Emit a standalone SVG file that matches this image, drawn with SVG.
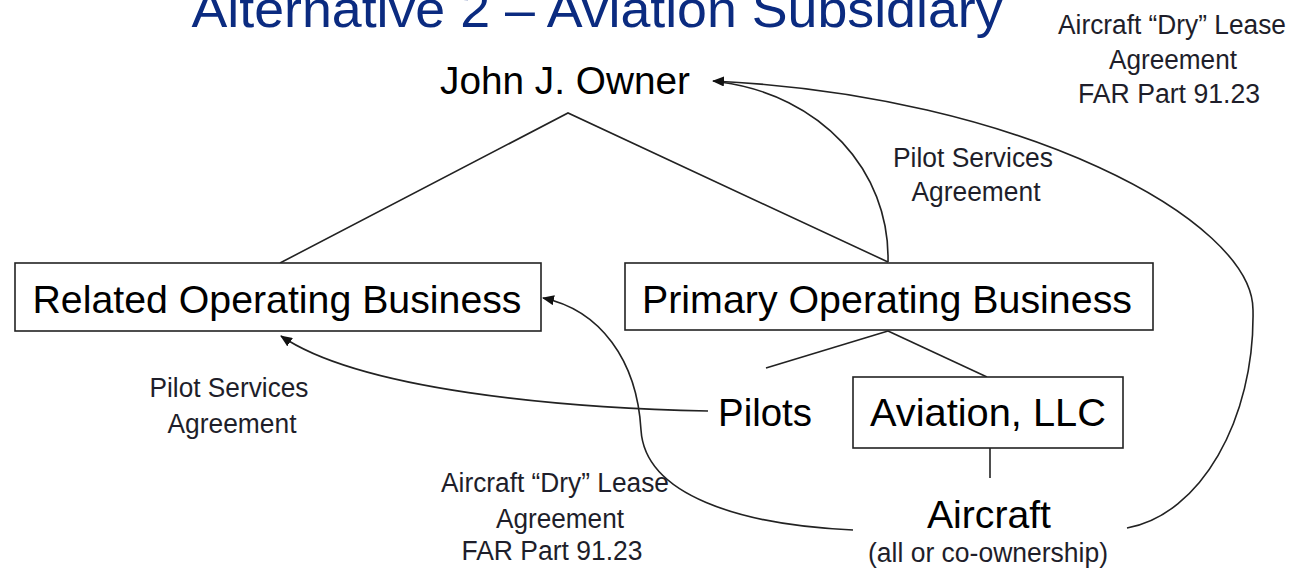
<svg xmlns="http://www.w3.org/2000/svg" width="1291" height="573" viewBox="0 0 1291 573">
<style>
text{font-family:"Liberation Sans",Arial,sans-serif;text-anchor:middle}
.main{font-size:39px;fill:#000}
.lbl{font-size:27px;fill:#1e1e2a}
.title{font-size:52px;fill:#0b2b80}
.box{fill:#fff;stroke:#222;stroke-width:1.6}
.ln{fill:none;stroke:#222;stroke-width:1.6}
</style>
<defs>
<marker id="ah" viewBox="0 0 12 10" markerWidth="12" markerHeight="10" refX="11" refY="5" orient="auto" markerUnits="userSpaceOnUse">
<path d="M0,0 L12,5 L0,10 z" fill="#111"/>
</marker>
</defs>
<rect width="1291" height="573" fill="#fff"/>
<text class="title" x="597" y="27" textLength="811" lengthAdjust="spacingAndGlyphs">Alternative 2 – Aviation Subsidiary</text>

<g id="connectors">
<polyline class="ln" points="280,263 568,113 888,262"/>
<line class="ln" x1="888" y1="331" x2="766" y2="368"/>
<line class="ln" x1="888" y1="331" x2="987" y2="377"/>
<line class="ln" x1="990" y1="448" x2="990" y2="478"/>
<path class="ln" d="M888,262 C890,170 820,95 720,82"/>
<path class="ln" d="M1127,528 C1200,515 1255,420 1253,310 C1253,220 1020,95 713,81" marker-end="url(#ah)"/>
<path class="ln" d="M853,530 C740,525 645,495 641,430 C637,360 600,310 543,298" marker-end="url(#ah)"/>
<path class="ln" d="M708,411 C560,408 360,390 281,336" marker-end="url(#ah)"/>
</g>

<g id="owner"><text class="main" x="565" y="94" textLength="250" lengthAdjust="spacingAndGlyphs">John J. Owner</text></g>
<g id="related"><rect class="box" x="15" y="263" width="526" height="68"/><text class="main" x="277" y="313" textLength="489" lengthAdjust="spacingAndGlyphs">Related Operating Business</text></g>
<g id="primary"><rect class="box" x="625" y="263" width="528" height="67"/><text class="main" x="887" y="313" textLength="490" lengthAdjust="spacingAndGlyphs">Primary Operating Business</text></g>
<g id="pilots"><text class="main" x="765" y="426" textLength="94" lengthAdjust="spacingAndGlyphs">Pilots</text></g>
<g id="aviation"><rect class="box" x="853" y="377" width="270" height="71"/><text class="main" x="988" y="426" textLength="236" lengthAdjust="spacingAndGlyphs">Aviation,  LLC</text></g>
<g id="aircraft"><text class="main" x="989" y="528" textLength="124" lengthAdjust="spacingAndGlyphs">Aircraft</text><text class="lbl" x="988" y="562" textLength="240" lengthAdjust="spacingAndGlyphs">(all or co-ownership)</text></g>

<g id="label-lease-top">
<text class="lbl" x="1172" y="34" textLength="228" lengthAdjust="spacingAndGlyphs">Aircraft “Dry” Lease</text>
<text class="lbl" x="1173" y="69" textLength="128" lengthAdjust="spacingAndGlyphs">Agreement</text>
<text class="lbl" x="1169" y="103" textLength="182" lengthAdjust="spacingAndGlyphs">FAR Part 91.23</text>
</g>
<g id="label-pilot-top">
<text class="lbl" x="973" y="167" textLength="160" lengthAdjust="spacingAndGlyphs">Pilot Services</text>
<text class="lbl" x="976" y="201" textLength="129" lengthAdjust="spacingAndGlyphs">Agreement</text>
</g>
<g id="label-pilot-left">
<text class="lbl" x="229" y="397" textLength="159" lengthAdjust="spacingAndGlyphs">Pilot Services</text>
<text class="lbl" x="232" y="433" textLength="129" lengthAdjust="spacingAndGlyphs">Agreement</text>
</g>
<g id="label-lease-bottom">
<text class="lbl" x="555" y="492" textLength="228" lengthAdjust="spacingAndGlyphs">Aircraft “Dry” Lease</text>
<text class="lbl" x="560" y="528" textLength="128" lengthAdjust="spacingAndGlyphs">Agreement</text>
<text class="lbl" x="552" y="560" textLength="181" lengthAdjust="spacingAndGlyphs">FAR Part 91.23</text>
</g>
</svg>
